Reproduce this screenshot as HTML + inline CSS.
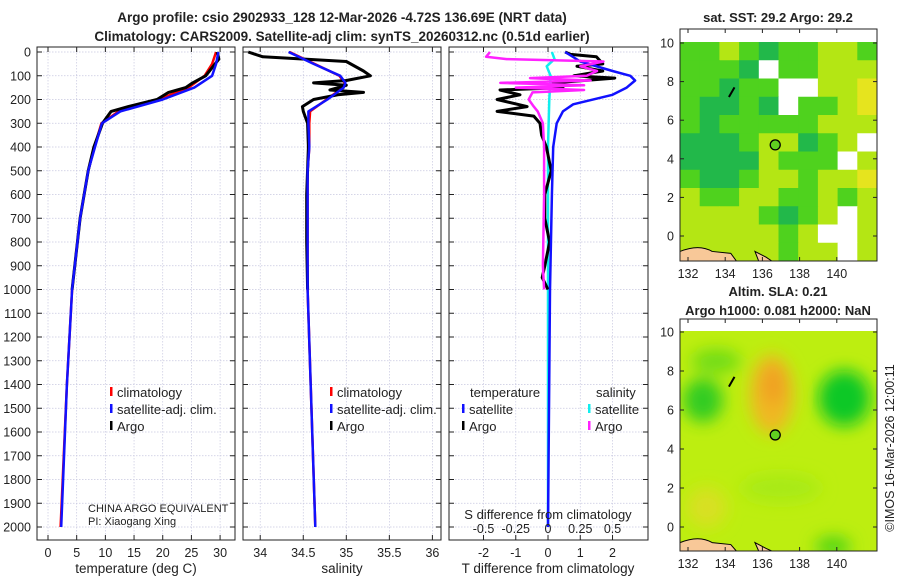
<!DOCTYPE html>
<html><head><meta charset="utf-8"><style>
body{margin:0;background:#fff;width:900px;height:580px;overflow:hidden}
svg text{font-family:"Liberation Sans","DejaVu Sans",sans-serif;fill:#222}
</style></head><body>
<svg id="fig" width="900" height="580" xmlns="http://www.w3.org/2000/svg">
<text x="342" y="22" text-anchor="middle" font-size="13.5" font-weight="bold">Argo profile: csio 2902933_128 12-Mar-2026 -4.72S 136.69E (NRT data)</text>
<text x="342" y="41" text-anchor="middle" font-size="13.5" font-weight="bold">Climatology: CARS2009. Satellite-adj clim: synTS_20260312.nc (0.51d earlier)</text>
<g id="g"></g>
</svg>
<script>
// ---- data ----
const tDepth = [0,50,100,150,200,250,300,400,500,700,1000,1400,2000];
const tSat   = [29.7,29.3,28.6,25.5,20,12.6,9.4,8.2,7,5.6,4.2,3.3,2.3];
const tClim  = [29.3,28.6,27.3,24.5,19.3,12.3,9.3,8.1,7,5.6,4.2,3.3,2.2];
const argoDepth = [0,30,60,100,130,150,170,200,230,250,300,400,500,700,1000];
const tArgo  = [29.5,29.8,28.8,27.5,25.2,24,21,19,14,11,9.5,8,7,5.6,4.2];
const sDepth = [0,50,100,130,150,200,250,300,400,500,700,1000,2000];
const sSat   = [34.33,34.62,34.93,34.99,34.97,34.78,34.56,34.56,34.57,34.55,34.55,34.55,34.64];
const sClim  = [34.34,34.63,34.92,34.98,34.96,34.77,34.58,34.57,34.57,34.55,34.55,34.55,34.64];
const sArgoDepth = [0,20,40,80,100,120,130,140,160,170,180,200,230,250,300,400,600,800,1000];
const sArgo  = [33.86,34.03,35.0,35.2,35.28,35.0,34.62,35.0,34.81,35.2,34.9,34.62,34.49,34.5,34.55,34.56,34.54,34.54,34.55];
const dDepthT = [0,40,80,100,120,150,180,220,250,300,400,600,1000,2000];
const dTSat = [0.53,1.0,2.0,2.55,2.7,2.44,2.0,0.78,0.46,0.27,0.16,0.12,0.06,0];
const dDepthArgo = [0,10,20,50,60,80,100,110,130,150,160,180,200,230,250,270,300,350,400,500,600,700,800,900,950,1000];
const dTArgo = [0.53,0.7,1.5,1.7,0.9,1.7,0.8,2.07,0.16,0.46,-1.49,-0.87,-1.58,-0.65,-1.58,-0.44,-0.25,-0.2,-0.05,0.1,-0.1,-0.1,0.05,-0.1,-0.18,0];
const dDepthS = [0,20,30,40,60,80,100,110,120,130,140,150,160,170,200,230,250,300,400,600,900,1000];
const dSArgo = [-0.45,-0.48,-0.32,0.43,0.25,0.38,0.3,-0.14,0.33,-0.37,0.28,-0.25,0.28,-0.12,-0.15,-0.11,-0.08,-0.04,-0.03,-0.03,-0.04,-0.03];
const dDepthSSat = [0,30,60,100,200,400,2000];
const dSSat = [0.03,0.05,-0.01,0.02,0.01,0,0];
const depthTicks = [0,100,200,300,400,500,600,700,800,900,1000,1100,1200,1300,1400,1500,1600,1700,1800,1900,2000];
const tTicks = [0,5,10,15,20,25,30];
const sTicks = [34,34.5,35,35.5,36];
const sTickLabels = ["34","34.5","35","35.5","36"];
const dTTicks = [-2,-1,0,1,2];
const dSTickLabels = ["-0.5","-0.25","0","0.25","0.5"];
const sstGrid = [
[2,2,3,2,1,2,2,3,3,2],
[2,2,2,1,0,2,2,3,3,3],
[2,2,1,2,2,0,0,3,3,4],
[2,1,1,2,1,0,2,2,3,4],
[2,1,2,2,2,2,2,3,3,3],
[1,1,1,2,3,3,1,2,3,0],
[1,1,1,1,3,2,2,2,0,3],
[2,1,1,2,3,3,2,3,3,4],
[3,2,2,3,3,2,2,3,2,3],
[3,3,3,3,2,1,2,3,0,3],
[3,3,3,3,3,2,3,0,0,3],
[3,3,3,3,3,2,3,3,0,3]];
const lonTicks = [132,134,136,138,140];
const latTicks = [0,2,4,6,8,10];

// ---- drawing ----
const NS="http://www.w3.org/2000/svg", G=document.getElementById('g');
function el(tag,attrs,parent){const e=document.createElementNS(NS,tag);for(const k in attrs)e.setAttribute(k,attrs[k]);(parent||G).appendChild(e);return e;}
function txt(x,y,s,size,anchor,parent){const t=el('text',{x:x,y:y,'font-size':size,'text-anchor':anchor||'middle'},parent);t.textContent=s;return t;}
const Y=d=>52+d*0.2375, TOP=47, BOT=540;
const panels=[
 {x0:37,x1:235,v0:-1.92,v1:32.6,ticks:tTicks,labels:tTicks.map(String),name:'temperature-panel'},
 {x0:243,x1:441,v0:33.8,v1:36.1,ticks:sTicks,labels:sTickLabels,name:'salinity-panel'},
 {x0:449,x1:648,v0:-3.07,v1:3.1,ticks:dTTicks,labels:dTTicks.map(String),name:'difference-panel'}];
panels.forEach(p=>{p.X=v=>p.x0+(v-p.v0)/(p.v1-p.v0)*(p.x1-p.x0);});
panels.forEach((p,i)=>{
  const g=el('g',{});
  
  
  depthTicks.forEach(d=>{el('line',{x1:p.x0,x2:p.x1,y1:Y(d),y2:Y(d),stroke:'#c8c8e0','stroke-width':0.7,'stroke-dasharray':'1.5,1.5'},g);
    el('line',{x1:p.x0,x2:p.x0+5,y1:Y(d),y2:Y(d),stroke:'#222'},g);el('line',{x1:p.x1-5,x2:p.x1,y1:Y(d),y2:Y(d),stroke:'#222'},g);
    if(i==0)txt(31,Y(d)+4.5,String(d),12.5,'end',g);});
  p.ticks.forEach((v,k)=>{const x=p.X(v);el('line',{x1:x,x2:x,y1:TOP,y2:BOT,stroke:'#c8c8e0','stroke-width':0.7,'stroke-dasharray':'1.5,1.5'},g);
    el('line',{x1:x,x2:x,y1:BOT-5,y2:BOT,stroke:'#222'},g);el('line',{x1:x,x2:x,y1:TOP,y2:TOP+5,stroke:'#222'},g);
    txt(x,557,p.labels[k],12.5,'middle',g);});
  el('rect',{x:p.x0,y:TOP,width:p.x1-p.x0,height:BOT-TOP,fill:'none',stroke:'#222','stroke-width':1},g);
});
function line(p,vals,depths,color,w,name){
  const pts=vals.map((v,i)=>p.X(v).toFixed(1)+','+Y(depths[i]).toFixed(1)).join(' ');
  const l=el('polyline',{points:pts,fill:'none',stroke:color,'stroke-width':w,'stroke-linejoin':'round'});
  
  
}
const P0=panels[0],P1=panels[1],P2=panels[2];
line(P0,tClim,tDepth,'#f00',2.5,'temperature-climatology-line');
line(P0,tArgo,argoDepth,'#000',3,'temperature-argo-line');
line(P0,tSat,tDepth,'#11f',2.5,'temperature-satellite-line');
line(P1,sClim,sDepth,'#f00',2.5,'salinity-climatology-line');
line(P1,sArgo,sArgoDepth,'#000',3,'salinity-argo-line');
line(P1,sSat,sDepth,'#11f',2.5,'salinity-satellite-line');
const sScale=v=>v*4; // S diff 0.5 equals T diff 2
line(P2,dSSat.map(sScale),dDepthSSat,'#1ee',2.5,'salinity-satellite-diff-line');
line(P2,dTArgo,dDepthArgo,'#000',3,'temperature-argo-diff-line');
line(P2,dTSat,dDepthT,'#11f',2.5,'temperature-satellite-diff-line');
line(P2,dSArgo.map(sScale),dDepthS,'#f2f',2.5,'salinity-argo-diff-line');
// axis titles
txt(136,573,'temperature (deg C)',13.5);
txt(342,573,'salinity',13.5);
txt(548,573,'T difference from climatology',13.5);
txt(548,519,'S difference from climatology',13);
dSTickLabels.forEach((s,k)=>txt(P2.X(dTTicks[k]),533,s,12.5));
// legends
function leg(x,y,c,s,name){const g=el('g',{});
  el('rect',{x:x,y:y-10,width:2.5,height:9,fill:c},g);txt(x+7,y,s,13,'start',g);}
leg(110,397,'#f00','climatology','legend-climatology');
leg(110,414,'#11f','satellite-adj. clim.','legend-satellite-adj');
leg(110,431,'#000','Argo','legend-argo');
leg(330,397,'#f00','climatology','legend-climatology-2');
leg(330,414,'#11f','satellite-adj. clim.','legend-satellite-adj-2');
leg(330,431,'#000','Argo','legend-argo-2');
txt(470,397,'temperature',13,'start');txt(596,397,'salinity',13,'start');
leg(462,414,'#11f','satellite','legend-t-satellite');leg(462,431,'#000','Argo','legend-t-argo');
leg(588,414,'#1ee','satellite','legend-s-satellite');leg(588,431,'#f2f','Argo','legend-s-argo');
txt(88,512,'CHINA ARGO EQUIVALENT',11,'start');txt(88,525,'PI: Xiaogang Xing',11,'start');

// ---- maps ----
const LX=lon=>680+(lon-131.57)*18.6;
function map(top,bot,lat10y,lat0y,name){
  const LY=lat=>lat0y+(lat10y-lat0y)*lat/10;
  const g=el('g',{});
  return {g,LY,top,bot};
}
const m1=map(29,261,43,236,'sst-map');
const cols=['#fff','#22b84a','#4fd21e','#b4e614','#e6e41e'];
const nr=sstGrid.length,nc=sstGrid[0].length,cw=(877-680)/nc,ch=(261-42)/nr;
sstGrid.forEach((row,r)=>row.forEach((v,c)=>{el('rect',{x:680+c*cw,y:42+r*ch,width:cw+0.5,height:ch+0.5,fill:cols[v]},m1.g);}));
const m2=map(319,551,332,527,'sla-map');
const defs=el('defs',{});
const f=el('filter',{id:'bl',x:'-50%',y:'-50%',width:'200%',height:'200%'},defs);el('feGaussianBlur',{stdDeviation:8},f);
el('clipPath',{id:'c2'},defs);el('rect',{x:680,y:331,width:197,height:220},defs.lastChild);
const cg=el('g',{'clip-path':'url(#c2)'},m2.g);
el('rect',{x:680,y:331,width:197,height:220,fill:'#bdee10'},cg);
const bl=el('g',{filter:'url(#bl)'},cg);
el('ellipse',{cx:LX(136.5),cy:m2.LY(6.8),rx:22,ry:40,fill:'#f0b820'},bl);
el('ellipse',{cx:LX(136.6),cy:m2.LY(7.3),rx:12,ry:20,fill:'#f0a020'},bl);
el('ellipse',{cx:LX(140.4),cy:m2.LY(6.6),rx:26,ry:28,fill:'#10c828'},bl);
el('ellipse',{cx:LX(132.8),cy:m2.LY(6.5),rx:20,ry:22,fill:'#30cc22'},bl);
el('ellipse',{cx:LX(133.5),cy:m2.LY(8.5),rx:25,ry:12,fill:'#70dc18'},bl);
el('ellipse',{cx:LX(133),cy:m2.LY(1),rx:20,ry:20,fill:'#d8e020'},bl);
el('ellipse',{cx:LX(139.8),cy:m2.LY(-1),rx:18,ry:10,fill:'#50d418'},bl);
el('ellipse',{cx:LX(137),cy:m2.LY(2),rx:40,ry:14,fill:'#a8ea14'},bl);
[m1,m2].forEach(m=>{
  el('path',{d:`M680 ${m.bot} L680 ${m.LY(-0.8)} Q${LX(132.6)} ${m.LY(-0.4)} ${LX(133.3)} ${m.LY(-0.8)} L${LX(134.3)} ${m.LY(-0.9)} L${LX(134.6)} ${m.bot} Z`,fill:'#f8c898',stroke:'#000','stroke-width':1},m.g);
  el('path',{d:`M${LX(135.6)} ${m.LY(-0.8)} L${LX(136.2)} ${m.LY(-1.1)} L${LX(136.5)} ${m.bot} L${LX(135.8)} ${m.bot} Z`,fill:'#f8c898',stroke:'#000','stroke-width':1},m.g);
  el('path',{d:`M${LX(134.5)} ${m.LY(7.7)} L${LX(134.2)} ${m.LY(7.2)}`,stroke:'#000','stroke-width':2},m.g);
  const c=el('circle',{cx:LX(136.69),cy:m.LY(4.72),r:5,fill:'#60d020',stroke:'#000','stroke-width':1.3},m.g);
  
  
  el('rect',{x:680,y:m.top,width:197,height:m.bot-m.top,fill:'none',stroke:'#222'},m.g);
  lonTicks.forEach(l=>{el('line',{x1:LX(l),x2:LX(l),y1:m.bot-4,y2:m.bot,stroke:'#222'},m.g);el('line',{x1:LX(l),x2:LX(l),y1:m.top,y2:m.top+4,stroke:'#222'},m.g);txt(LX(l),m.bot+17,String(l),12.5,'middle',m.g);});
  latTicks.forEach(l=>{el('line',{x1:680,x2:684,y1:m.LY(l),y2:m.LY(l),stroke:'#222'},m.g);el('line',{x1:873,x2:877,y1:m.LY(l),y2:m.LY(l),stroke:'#222'},m.g);txt(674,m.LY(l)+4.5,String(l),12.5,'end',m.g);});
});
txt(778,22,'sat. SST: 29.2 Argo: 29.2',13,'middle').setAttribute('font-weight','bold');
txt(778,296,'Altim. SLA: 0.21',13,'middle').setAttribute('font-weight','bold');
txt(778,315,'Argo h1000: 0.081 h2000: NaN',13,'middle').setAttribute('font-weight','bold');
const cr=txt(0,0,'©IMOS 16-Mar-2026 12:00:11',12.5,'middle');
cr.setAttribute('transform','translate(894,448) rotate(-90)');

</script>
</body></html>
